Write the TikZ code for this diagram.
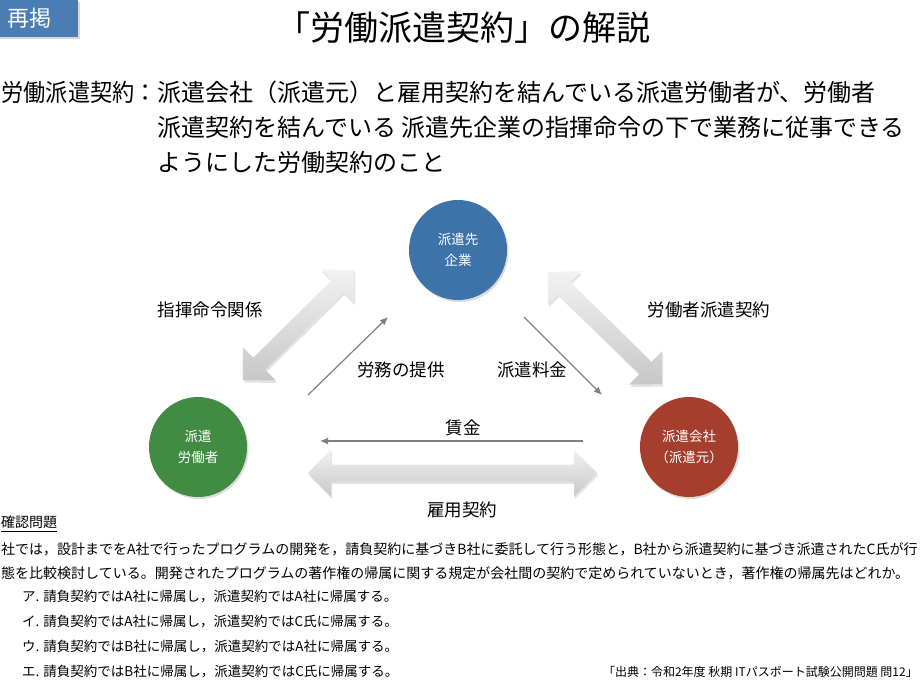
\documentclass[tikz,border=0pt]{standalone}
\usepackage{fontspec}
\setmainfont{Noto Sans CJK JP}
\usetikzlibrary{calc,shadows,arrows.meta,shapes.geometric}
\definecolor{cblue}{RGB}{62,115,170}
\definecolor{cgreen}{RGB}{66,139,66}
\definecolor{cred}{RGB}{165,62,45}
\definecolor{cbadge}{RGB}{74,125,180}
\definecolor{cthin}{RGB}{128,128,128}
\newcommand{\fsz}[2]{\fontsize{#1}{#2}\selectfont}
\newcommand{\hlen}{23pt}
\newcommand{\hwid}{23.5pt}
\newcommand{\swid}{8.5pt}
\newcommand{\fatarrow}[2]{%
  \coordinate (#1h) at ($(#1)!\hlen!(#2)$);
  \coordinate (#2h) at ($(#2)!\hlen!(#1)$);
  \path[bigarrow] (#1) -- ($(#1h)!\hwid!90:(#2)$) -- ($(#1h)!\swid!90:(#2)$)
    -- ($(#2h)!\swid!-90:(#1)$) -- ($(#2h)!\hwid!-90:(#1)$) -- (#2)
    -- ($(#2h)!\hwid!90:(#1)$) -- ($(#2h)!\swid!90:(#1)$)
    -- ($(#1h)!\swid!-90:(#2)$) -- ($(#1h)!\hwid!-90:(#2)$) -- cycle;}
\begin{document}
\begin{tikzpicture}[x=1pt,y=-1pt,
  bigarrow/.style={top color=white!95!black, bottom color=white!78!black,
    drop shadow={opacity=0.22,shadow xshift=1pt,shadow yshift=-2.5pt}},
  circ/.style={ellipse, minimum width=98pt, minimum height=100pt, inner sep=0pt,
    text=white, align=center, font=\fsz{13.5}{21},
    drop shadow={opacity=0.28,shadow xshift=1.5pt,shadow yshift=-2pt}},
  lbl/.style={inner sep=0pt, font=\fsz{17.5}{20}},
  deftext/.style={inner sep=0pt, font=\fsz{24}{26}},
  qtext/.style={inner sep=0pt, font=\fsz{14}{16}, anchor=west},
  otext/.style={inner sep=0pt, font=\fsz{13.5}{16}, anchor=west},
  thinarrow/.style={draw=cthin, line width=1.2pt, -{Latex[length=8pt,width=7pt]}}]
\useasboundingbox (0,0) rectangle (921,691);
\fill[white] (0,0) rectangle (921,691);
\begin{scope}
\clip (0,0) rectangle (921,691);
% badge
\node[fill=cbadge, minimum width=98pt, minimum height=37pt, inner sep=0pt,
  text=white, font=\fsz{22}{22},
  drop shadow={opacity=0.3,shadow xshift=1.5pt,shadow yshift=-2pt}] (badge) at (29,18.5) {再掲};
% title
\node[inner sep=0pt, font=\fsz{34}{36}] (title) at (463,28) {「労働派遣契約」の解説};
% definition
\node[deftext, anchor=east, xscale=0.925] (d0) at (157,92) {労働派遣契約：};
\node[deftext, anchor=west] (d1) at (157,92) {派遣会社（派遣元）と雇用契約を結んでいる派遣労働者が、労働者};
\node[deftext, anchor=west] (d2) at (157,127) {派遣契約を結んでいる 派遣先企業の指揮命令の下で業務に従事できる};
\node[deftext, anchor=west] (d3) at (157,162) {ようにした労働契約のこと};
% big arrows
\coordinate (La) at (243,380); \coordinate (Lb) at (354,270);
\coordinate (Ra) at (548,272); \coordinate (Rb) at (662,384);
\coordinate (Ba) at (308,473); \coordinate (Bb) at (597,473);
\fatarrow{La}{Lb}
\fatarrow{Ra}{Rb}
\fatarrow{Ba}{Bb}
% circles
\node[circ, fill=cblue] (dest) at (458,250) {派遣先\\企業};
\node[circ, fill=cgreen] (worker) at (198,447) {派遣\\労働者};
\node[circ, fill=cred] (agency) at (689,447) {派遣会社\\（派遣元）};
% thin arrows
\coordinate (T1s) at (308,395); \coordinate (T1e) at (388,317);
\coordinate (T2s) at (524,317); \coordinate (T2e) at (602,395);
\coordinate (T3s) at (583,441); \coordinate (T3e) at (320,441);
\draw[thinarrow] (T1s) -- (T1e);
\draw[thinarrow] (T2s) -- (T2e);
\draw[thinarrow] (T3s) -- (T3e);
% labels
\node[lbl] (l1) at (210,310) {指揮命令関係};
\node[lbl] (l2) at (709,310) {労働者派遣契約};
\node[lbl] (l3) at (401,370) {労務の提供};
\node[lbl] (l4) at (532,370) {派遣料金};
\node[lbl] (l5) at (463,428) {賃金};
\node[lbl] (l6) at (462,510) {雇用契約};
% question
\node[qtext] (q0) at (1,522) {確認問題};
\draw[line width=0.8pt] ([yshift=-2.5pt]q0.south west) -- ([yshift=-2.5pt]q0.south east);
\node[qtext] (q1) at (1,549) {社では，設計までをA社で行ったプログラムの開発を，請負契約に基づきB社に委託して行う形態と，B社から派遣契約に基づき派遣されたC氏が行};
\node[qtext] (q2) at (1,573) {態を比較検討している。開発されたプログラムの著作権の帰属に関する規定が会社間の契約で定められていないとき，著作権の帰属先はどれか。};
\node[otext] (o1) at (22,597) {ア. 請負契約ではA社に帰属し，派遣契約ではA社に帰属する。};
\node[otext] (o2) at (22,622) {イ. 請負契約ではA社に帰属し，派遣契約ではC氏に帰属する。};
\node[otext] (o3) at (22,647) {ウ. 請負契約ではB社に帰属し，派遣契約ではA社に帰属する。};
\node[otext] (o4) at (22,672) {エ. 請負契約ではB社に帰属し，派遣契約ではC氏に帰属する。};
\node[inner sep=0pt, font=\fsz{12}{14}, anchor=east] (src) at (918,672) {「出典：令和2年度 秋期 ITパスポート試験公開問題 問12」};
\end{scope}
\end{tikzpicture}
\end{document}
